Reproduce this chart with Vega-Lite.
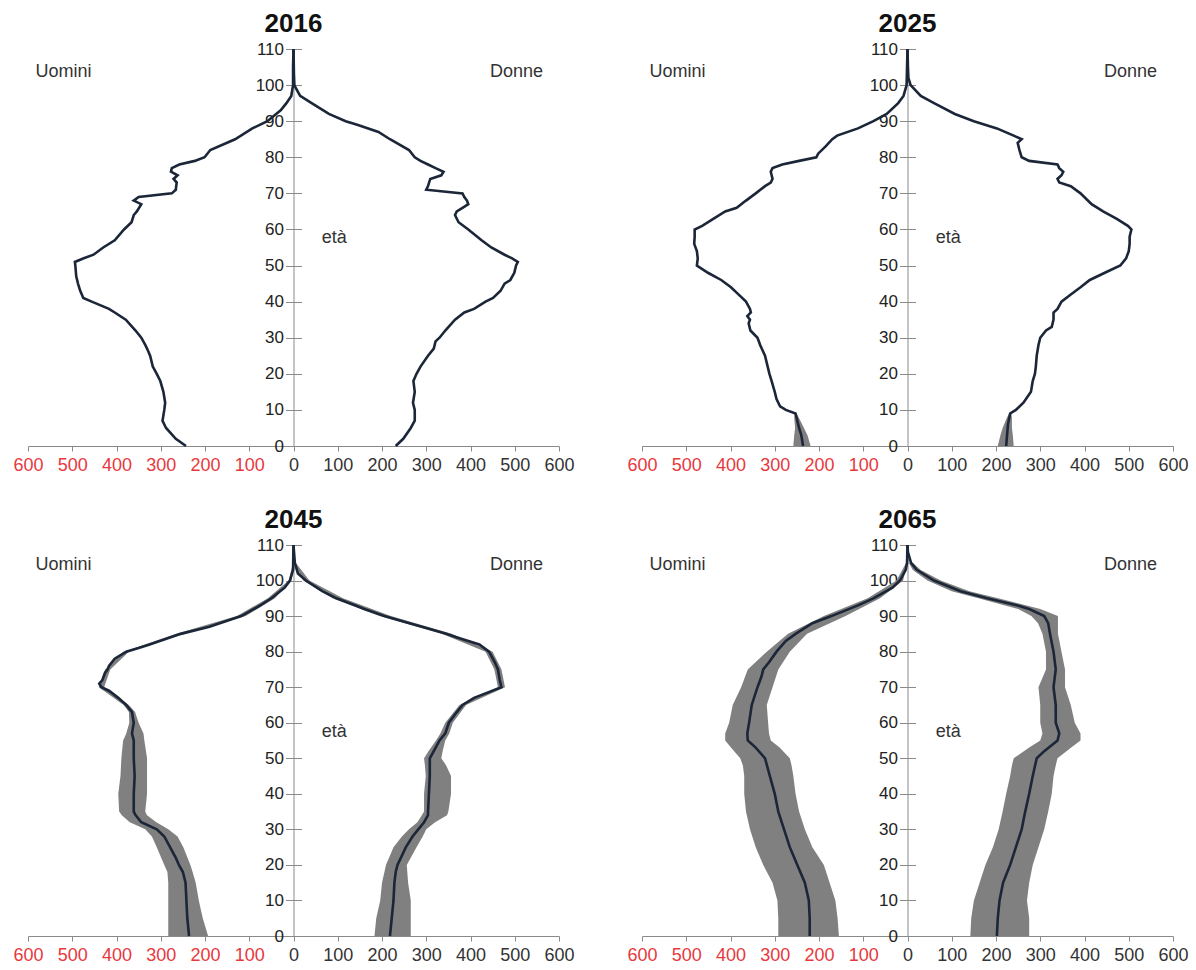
{
  "$schema": "https://vega.github.io/schema/vega-lite/v6.json",
  "padding": {"left": 12, "top": 11, "right": 5, "bottom": 5},
  "background": "white",
  "config": {
    "view": {"stroke": null},
    "font": "Liberation Sans",
    "title": {"fontSize": 26, "fontWeight": "bold", "color": "#111111", "offset": 3, "anchor": "middle"},
    "axis": {"domainColor": "#8a8a8a", "tickColor": "#8a8a8a", "grid": false, "labelFont": "Liberation Sans"}
  },
  "datasets": {
    "lines": [
      {"year":2016,"sex":"M","age":0,"pop":-243},{"year":2016,"sex":"M","age":2,"pop":-266},{"year":2016,"sex":"M","age":5,"pop":-288},{"year":2016,"sex":"M","age":7,"pop":-296},{"year":2016,"sex":"M","age":10,"pop":-292},{"year":2016,"sex":"M","age":12,"pop":-290},{"year":2016,"sex":"M","age":15,"pop":-294},{"year":2016,"sex":"M","age":18,"pop":-301},{"year":2016,"sex":"M","age":20,"pop":-309},{"year":2016,"sex":"M","age":22,"pop":-318},{"year":2016,"sex":"M","age":25,"pop":-324},{"year":2016,"sex":"M","age":27,"pop":-331},{"year":2016,"sex":"M","age":28,"pop":-335},{"year":2016,"sex":"M","age":30,"pop":-344},{"year":2016,"sex":"M","age":32,"pop":-357},{"year":2016,"sex":"M","age":35,"pop":-379},{"year":2016,"sex":"M","age":37,"pop":-404},{"year":2016,"sex":"M","age":38,"pop":-417},{"year":2016,"sex":"M","age":40,"pop":-456},{"year":2016,"sex":"M","age":41,"pop":-475},{"year":2016,"sex":"M","age":43,"pop":-482},{"year":2016,"sex":"M","age":45,"pop":-487},{"year":2016,"sex":"M","age":47,"pop":-491},{"year":2016,"sex":"M","age":50,"pop":-493},{"year":2016,"sex":"M","age":51,"pop":-494},{"year":2016,"sex":"M","age":52,"pop":-474},{"year":2016,"sex":"M","age":53,"pop":-452},{"year":2016,"sex":"M","age":55,"pop":-430},{"year":2016,"sex":"M","age":57,"pop":-404},{"year":2016,"sex":"M","age":60,"pop":-383},{"year":2016,"sex":"M","age":62,"pop":-366},{"year":2016,"sex":"M","age":64,"pop":-361},{"year":2016,"sex":"M","age":65,"pop":-354},{"year":2016,"sex":"M","age":67,"pop":-344},{"year":2016,"sex":"M","age":68,"pop":-361},{"year":2016,"sex":"M","age":69,"pop":-350},{"year":2016,"sex":"M","age":70,"pop":-275},{"year":2016,"sex":"M","age":71,"pop":-266},{"year":2016,"sex":"M","age":73,"pop":-264},{"year":2016,"sex":"M","age":74,"pop":-271},{"year":2016,"sex":"M","age":75,"pop":-262},{"year":2016,"sex":"M","age":76,"pop":-277},{"year":2016,"sex":"M","age":77,"pop":-275},{"year":2016,"sex":"M","age":78,"pop":-258},{"year":2016,"sex":"M","age":79,"pop":-223},{"year":2016,"sex":"M","age":80,"pop":-201},{"year":2016,"sex":"M","age":82,"pop":-188},{"year":2016,"sex":"M","age":85,"pop":-132},{"year":2016,"sex":"M","age":88,"pop":-93},{"year":2016,"sex":"M","age":90,"pop":-59},{"year":2016,"sex":"M","age":93,"pop":-29},{"year":2016,"sex":"M","age":95,"pop":-16},{"year":2016,"sex":"M","age":97,"pop":-5},{"year":2016,"sex":"M","age":100,"pop":-1},{"year":2016,"sex":"M","age":105,"pop":-1},{"year":2016,"sex":"M","age":110,"pop":0},
      {"year":2016,"sex":"F","age":0,"pop":231},{"year":2016,"sex":"F","age":2,"pop":248},{"year":2016,"sex":"F","age":5,"pop":265},{"year":2016,"sex":"F","age":7,"pop":274},{"year":2016,"sex":"F","age":10,"pop":274},{"year":2016,"sex":"F","age":12,"pop":270},{"year":2016,"sex":"F","age":15,"pop":274},{"year":2016,"sex":"F","age":18,"pop":271},{"year":2016,"sex":"F","age":20,"pop":278},{"year":2016,"sex":"F","age":22,"pop":287},{"year":2016,"sex":"F","age":25,"pop":304},{"year":2016,"sex":"F","age":27,"pop":317},{"year":2016,"sex":"F","age":29,"pop":321},{"year":2016,"sex":"F","age":30,"pop":330},{"year":2016,"sex":"F","age":32,"pop":343},{"year":2016,"sex":"F","age":35,"pop":365},{"year":2016,"sex":"F","age":37,"pop":386},{"year":2016,"sex":"F","age":38,"pop":408},{"year":2016,"sex":"F","age":40,"pop":434},{"year":2016,"sex":"F","age":41,"pop":451},{"year":2016,"sex":"F","age":43,"pop":468},{"year":2016,"sex":"F","age":45,"pop":477},{"year":2016,"sex":"F","age":46,"pop":490},{"year":2016,"sex":"F","age":48,"pop":499},{"year":2016,"sex":"F","age":50,"pop":503},{"year":2016,"sex":"F","age":51,"pop":507},{"year":2016,"sex":"F","age":52,"pop":494},{"year":2016,"sex":"F","age":53,"pop":477},{"year":2016,"sex":"F","age":55,"pop":447},{"year":2016,"sex":"F","age":57,"pop":425},{"year":2016,"sex":"F","age":60,"pop":395},{"year":2016,"sex":"F","age":62,"pop":373},{"year":2016,"sex":"F","age":64,"pop":365},{"year":2016,"sex":"F","age":65,"pop":369},{"year":2016,"sex":"F","age":66,"pop":382},{"year":2016,"sex":"F","age":67,"pop":395},{"year":2016,"sex":"F","age":68,"pop":392},{"year":2016,"sex":"F","age":69,"pop":386},{"year":2016,"sex":"F","age":70,"pop":382},{"year":2016,"sex":"F","age":71,"pop":300},{"year":2016,"sex":"F","age":72,"pop":304},{"year":2016,"sex":"F","age":74,"pop":309},{"year":2016,"sex":"F","age":75,"pop":334},{"year":2016,"sex":"F","age":76,"pop":339},{"year":2016,"sex":"F","age":77,"pop":321},{"year":2016,"sex":"F","age":78,"pop":304},{"year":2016,"sex":"F","age":79,"pop":287},{"year":2016,"sex":"F","age":80,"pop":274},{"year":2016,"sex":"F","age":82,"pop":261},{"year":2016,"sex":"F","age":85,"pop":218},{"year":2016,"sex":"F","age":87,"pop":192},{"year":2016,"sex":"F","age":89,"pop":144},{"year":2016,"sex":"F","age":90,"pop":118},{"year":2016,"sex":"F","age":92,"pop":80},{"year":2016,"sex":"F","age":95,"pop":41},{"year":2016,"sex":"F","age":97,"pop":15},{"year":2016,"sex":"F","age":99,"pop":6},{"year":2016,"sex":"F","age":100,"pop":2},{"year":2016,"sex":"F","age":103,"pop":1},{"year":2016,"sex":"F","age":110,"pop":0},
      {"year":2025,"sex":"M","age":0,"pop":-236},{"year":2025,"sex":"M","age":3,"pop":-240},{"year":2025,"sex":"M","age":5,"pop":-245},{"year":2025,"sex":"M","age":8,"pop":-251},{"year":2025,"sex":"M","age":9,"pop":-253},{"year":2025,"sex":"M","age":10,"pop":-275},{"year":2025,"sex":"M","age":11,"pop":-288},{"year":2025,"sex":"M","age":13,"pop":-296},{"year":2025,"sex":"M","age":15,"pop":-300},{"year":2025,"sex":"M","age":18,"pop":-307},{"year":2025,"sex":"M","age":20,"pop":-312},{"year":2025,"sex":"M","age":22,"pop":-316},{"year":2025,"sex":"M","age":25,"pop":-322},{"year":2025,"sex":"M","age":28,"pop":-333},{"year":2025,"sex":"M","age":30,"pop":-339},{"year":2025,"sex":"M","age":32,"pop":-355},{"year":2025,"sex":"M","age":34,"pop":-359},{"year":2025,"sex":"M","age":35,"pop":-356},{"year":2025,"sex":"M","age":36,"pop":-362},{"year":2025,"sex":"M","age":37,"pop":-354},{"year":2025,"sex":"M","age":38,"pop":-356},{"year":2025,"sex":"M","age":40,"pop":-365},{"year":2025,"sex":"M","age":42,"pop":-382},{"year":2025,"sex":"M","age":44,"pop":-399},{"year":2025,"sex":"M","age":46,"pop":-421},{"year":2025,"sex":"M","age":48,"pop":-451},{"year":2025,"sex":"M","age":50,"pop":-476},{"year":2025,"sex":"M","age":52,"pop":-474},{"year":2025,"sex":"M","age":54,"pop":-476},{"year":2025,"sex":"M","age":56,"pop":-482},{"year":2025,"sex":"M","age":58,"pop":-481},{"year":2025,"sex":"M","age":60,"pop":-481},{"year":2025,"sex":"M","age":61,"pop":-464},{"year":2025,"sex":"M","age":63,"pop":-438},{"year":2025,"sex":"M","age":65,"pop":-412},{"year":2025,"sex":"M","age":66,"pop":-386},{"year":2025,"sex":"M","age":68,"pop":-365},{"year":2025,"sex":"M","age":70,"pop":-343},{"year":2025,"sex":"M","age":72,"pop":-322},{"year":2025,"sex":"M","age":73,"pop":-309},{"year":2025,"sex":"M","age":74,"pop":-305},{"year":2025,"sex":"M","age":76,"pop":-309},{"year":2025,"sex":"M","age":77,"pop":-305},{"year":2025,"sex":"M","age":78,"pop":-283},{"year":2025,"sex":"M","age":79,"pop":-245},{"year":2025,"sex":"M","age":80,"pop":-206},{"year":2025,"sex":"M","age":81,"pop":-202},{"year":2025,"sex":"M","age":83,"pop":-185},{"year":2025,"sex":"M","age":85,"pop":-170},{"year":2025,"sex":"M","age":86,"pop":-159},{"year":2025,"sex":"M","age":88,"pop":-112},{"year":2025,"sex":"M","age":90,"pop":-77},{"year":2025,"sex":"M","age":92,"pop":-47},{"year":2025,"sex":"M","age":95,"pop":-21},{"year":2025,"sex":"M","age":97,"pop":-9},{"year":2025,"sex":"M","age":100,"pop":-2},{"year":2025,"sex":"M","age":105,"pop":-1},{"year":2025,"sex":"M","age":110,"pop":0},
      {"year":2025,"sex":"F","age":0,"pop":223},{"year":2025,"sex":"F","age":3,"pop":225},{"year":2025,"sex":"F","age":6,"pop":227},{"year":2025,"sex":"F","age":9,"pop":232},{"year":2025,"sex":"F","age":10,"pop":245},{"year":2025,"sex":"F","age":12,"pop":262},{"year":2025,"sex":"F","age":15,"pop":279},{"year":2025,"sex":"F","age":18,"pop":283},{"year":2025,"sex":"F","age":20,"pop":288},{"year":2025,"sex":"F","age":22,"pop":290},{"year":2025,"sex":"F","age":25,"pop":292},{"year":2025,"sex":"F","age":28,"pop":296},{"year":2025,"sex":"F","age":30,"pop":300},{"year":2025,"sex":"F","age":32,"pop":313},{"year":2025,"sex":"F","age":33,"pop":326},{"year":2025,"sex":"F","age":35,"pop":330},{"year":2025,"sex":"F","age":37,"pop":330},{"year":2025,"sex":"F","age":38,"pop":339},{"year":2025,"sex":"F","age":40,"pop":348},{"year":2025,"sex":"F","age":42,"pop":369},{"year":2025,"sex":"F","age":44,"pop":391},{"year":2025,"sex":"F","age":46,"pop":412},{"year":2025,"sex":"F","age":48,"pop":446},{"year":2025,"sex":"F","age":50,"pop":481},{"year":2025,"sex":"F","age":52,"pop":494},{"year":2025,"sex":"F","age":54,"pop":500},{"year":2025,"sex":"F","age":56,"pop":502},{"year":2025,"sex":"F","age":58,"pop":502},{"year":2025,"sex":"F","age":60,"pop":506},{"year":2025,"sex":"F","age":61,"pop":498},{"year":2025,"sex":"F","age":63,"pop":472},{"year":2025,"sex":"F","age":65,"pop":442},{"year":2025,"sex":"F","age":67,"pop":416},{"year":2025,"sex":"F","age":70,"pop":391},{"year":2025,"sex":"F","age":72,"pop":369},{"year":2025,"sex":"F","age":73,"pop":343},{"year":2025,"sex":"F","age":74,"pop":339},{"year":2025,"sex":"F","age":75,"pop":348},{"year":2025,"sex":"F","age":76,"pop":352},{"year":2025,"sex":"F","age":77,"pop":343},{"year":2025,"sex":"F","age":78,"pop":339},{"year":2025,"sex":"F","age":79,"pop":275},{"year":2025,"sex":"F","age":80,"pop":258},{"year":2025,"sex":"F","age":82,"pop":253},{"year":2025,"sex":"F","age":84,"pop":249},{"year":2025,"sex":"F","age":85,"pop":258},{"year":2025,"sex":"F","age":86,"pop":240},{"year":2025,"sex":"F","age":88,"pop":202},{"year":2025,"sex":"F","age":90,"pop":150},{"year":2025,"sex":"F","age":92,"pop":107},{"year":2025,"sex":"F","age":95,"pop":60},{"year":2025,"sex":"F","age":97,"pop":30},{"year":2025,"sex":"F","age":100,"pop":7},{"year":2025,"sex":"F","age":102,"pop":2},{"year":2025,"sex":"F","age":105,"pop":1},{"year":2025,"sex":"F","age":110,"pop":0},
      {"year":2045,"sex":"M","age":0,"pop":-236},{"year":2045,"sex":"M","age":5,"pop":-240},{"year":2045,"sex":"M","age":10,"pop":-242},{"year":2045,"sex":"M","age":15,"pop":-244},{"year":2045,"sex":"M","age":18,"pop":-250},{"year":2045,"sex":"M","age":20,"pop":-259},{"year":2045,"sex":"M","age":22,"pop":-266},{"year":2045,"sex":"M","age":25,"pop":-279},{"year":2045,"sex":"M","age":28,"pop":-292},{"year":2045,"sex":"M","age":30,"pop":-309},{"year":2045,"sex":"M","age":32,"pop":-344},{"year":2045,"sex":"M","age":34,"pop":-357},{"year":2045,"sex":"M","age":35,"pop":-361},{"year":2045,"sex":"M","age":40,"pop":-361},{"year":2045,"sex":"M","age":45,"pop":-359},{"year":2045,"sex":"M","age":50,"pop":-361},{"year":2045,"sex":"M","age":55,"pop":-361},{"year":2045,"sex":"M","age":57,"pop":-365},{"year":2045,"sex":"M","age":60,"pop":-361},{"year":2045,"sex":"M","age":63,"pop":-365},{"year":2045,"sex":"M","age":65,"pop":-378},{"year":2045,"sex":"M","age":67,"pop":-396},{"year":2045,"sex":"M","age":69,"pop":-417},{"year":2045,"sex":"M","age":70,"pop":-434},{"year":2045,"sex":"M","age":71,"pop":-439},{"year":2045,"sex":"M","age":72,"pop":-432},{"year":2045,"sex":"M","age":74,"pop":-426},{"year":2045,"sex":"M","age":75,"pop":-420},{"year":2045,"sex":"M","age":76,"pop":-417},{"year":2045,"sex":"M","age":78,"pop":-404},{"year":2045,"sex":"M","age":80,"pop":-378},{"year":2045,"sex":"M","age":81,"pop":-350},{"year":2045,"sex":"M","age":82,"pop":-325},{"year":2045,"sex":"M","age":85,"pop":-255},{"year":2045,"sex":"M","age":87,"pop":-190},{"year":2045,"sex":"M","age":90,"pop":-118},{"year":2045,"sex":"M","age":93,"pop":-75},{"year":2045,"sex":"M","age":95,"pop":-50},{"year":2045,"sex":"M","age":98,"pop":-20},{"year":2045,"sex":"M","age":100,"pop":-8},{"year":2045,"sex":"M","age":103,"pop":-1},{"year":2045,"sex":"M","age":110,"pop":0},
      {"year":2045,"sex":"F","age":0,"pop":218},{"year":2045,"sex":"F","age":5,"pop":222},{"year":2045,"sex":"F","age":10,"pop":226},{"year":2045,"sex":"F","age":15,"pop":228},{"year":2045,"sex":"F","age":18,"pop":231},{"year":2045,"sex":"F","age":20,"pop":235},{"year":2045,"sex":"F","age":25,"pop":254},{"year":2045,"sex":"F","age":28,"pop":269},{"year":2045,"sex":"F","age":30,"pop":282},{"year":2045,"sex":"F","age":32,"pop":295},{"year":2045,"sex":"F","age":34,"pop":304},{"year":2045,"sex":"F","age":35,"pop":304},{"year":2045,"sex":"F","age":40,"pop":306},{"year":2045,"sex":"F","age":45,"pop":308},{"year":2045,"sex":"F","age":50,"pop":308},{"year":2045,"sex":"F","age":52,"pop":317},{"year":2045,"sex":"F","age":55,"pop":330},{"year":2045,"sex":"F","age":57,"pop":343},{"year":2045,"sex":"F","age":60,"pop":351},{"year":2045,"sex":"F","age":63,"pop":369},{"year":2045,"sex":"F","age":65,"pop":382},{"year":2045,"sex":"F","age":67,"pop":408},{"year":2045,"sex":"F","age":70,"pop":470},{"year":2045,"sex":"F","age":72,"pop":466},{"year":2045,"sex":"F","age":75,"pop":462},{"year":2045,"sex":"F","age":77,"pop":455},{"year":2045,"sex":"F","age":80,"pop":442},{"year":2045,"sex":"F","age":82,"pop":420},{"year":2045,"sex":"F","age":84,"pop":370},{"year":2045,"sex":"F","age":85,"pop":345},{"year":2045,"sex":"F","age":87,"pop":290},{"year":2045,"sex":"F","age":88,"pop":262},{"year":2045,"sex":"F","age":90,"pop":205},{"year":2045,"sex":"F","age":92,"pop":160},{"year":2045,"sex":"F","age":93,"pop":140},{"year":2045,"sex":"F","age":95,"pop":97},{"year":2045,"sex":"F","age":97,"pop":65},{"year":2045,"sex":"F","age":100,"pop":28},{"year":2045,"sex":"F","age":102,"pop":10},{"year":2045,"sex":"F","age":105,"pop":3},{"year":2045,"sex":"F","age":110,"pop":0},
      {"year":2065,"sex":"M","age":0,"pop":-221},{"year":2065,"sex":"M","age":5,"pop":-221},{"year":2065,"sex":"M","age":10,"pop":-223},{"year":2065,"sex":"M","age":15,"pop":-232},{"year":2065,"sex":"M","age":20,"pop":-249},{"year":2065,"sex":"M","age":25,"pop":-266},{"year":2065,"sex":"M","age":30,"pop":-279},{"year":2065,"sex":"M","age":35,"pop":-292},{"year":2065,"sex":"M","age":40,"pop":-300},{"year":2065,"sex":"M","age":45,"pop":-311},{"year":2065,"sex":"M","age":50,"pop":-322},{"year":2065,"sex":"M","age":53,"pop":-343},{"year":2065,"sex":"M","age":55,"pop":-361},{"year":2065,"sex":"M","age":57,"pop":-362},{"year":2065,"sex":"M","age":60,"pop":-358},{"year":2065,"sex":"M","age":65,"pop":-352},{"year":2065,"sex":"M","age":70,"pop":-339},{"year":2065,"sex":"M","age":73,"pop":-330},{"year":2065,"sex":"M","age":75,"pop":-326},{"year":2065,"sex":"M","age":77,"pop":-313},{"year":2065,"sex":"M","age":80,"pop":-296},{"year":2065,"sex":"M","age":83,"pop":-275},{"year":2065,"sex":"M","age":85,"pop":-253},{"year":2065,"sex":"M","age":88,"pop":-215},{"year":2065,"sex":"M","age":90,"pop":-172},{"year":2065,"sex":"M","age":93,"pop":-112},{"year":2065,"sex":"M","age":95,"pop":-77},{"year":2065,"sex":"M","age":98,"pop":-34},{"year":2065,"sex":"M","age":100,"pop":-17},{"year":2065,"sex":"M","age":103,"pop":-4},{"year":2065,"sex":"M","age":105,"pop":-1},{"year":2065,"sex":"M","age":110,"pop":0},
      {"year":2065,"sex":"F","age":0,"pop":202},{"year":2065,"sex":"F","age":5,"pop":204},{"year":2065,"sex":"F","age":10,"pop":208},{"year":2065,"sex":"F","age":15,"pop":216},{"year":2065,"sex":"F","age":20,"pop":232},{"year":2065,"sex":"F","age":25,"pop":245},{"year":2065,"sex":"F","age":30,"pop":258},{"year":2065,"sex":"F","age":35,"pop":266},{"year":2065,"sex":"F","age":40,"pop":275},{"year":2065,"sex":"F","age":45,"pop":283},{"year":2065,"sex":"F","age":50,"pop":292},{"year":2065,"sex":"F","age":52,"pop":309},{"year":2065,"sex":"F","age":55,"pop":339},{"year":2065,"sex":"F","age":57,"pop":343},{"year":2065,"sex":"F","age":60,"pop":335},{"year":2065,"sex":"F","age":65,"pop":335},{"year":2065,"sex":"F","age":70,"pop":330},{"year":2065,"sex":"F","age":75,"pop":335},{"year":2065,"sex":"F","age":80,"pop":330},{"year":2065,"sex":"F","age":85,"pop":322},{"year":2065,"sex":"F","age":88,"pop":318},{"year":2065,"sex":"F","age":90,"pop":309},{"year":2065,"sex":"F","age":92,"pop":275},{"year":2065,"sex":"F","age":93,"pop":249},{"year":2065,"sex":"F","age":95,"pop":180},{"year":2065,"sex":"F","age":97,"pop":120},{"year":2065,"sex":"F","age":100,"pop":60},{"year":2065,"sex":"F","age":103,"pop":21},{"year":2065,"sex":"F","age":105,"pop":8},{"year":2065,"sex":"F","age":108,"pop":1},{"year":2065,"sex":"F","age":110,"pop":0}
    ],
    "bands": [
      {"year":2025,"sex":"M","age":0,"lo":-258,"hi":-219},{"year":2025,"sex":"M","age":3,"lo":-256,"hi":-226},{"year":2025,"sex":"M","age":5,"lo":-254,"hi":-234},{"year":2025,"sex":"M","age":8,"lo":-256,"hi":-246},{"year":2025,"sex":"M","age":9,"lo":-255,"hi":-251},{"year":2025,"sex":"M","age":10,"lo":-276,"hi":-274},
      {"year":2025,"sex":"F","age":0,"lo":204,"hi":240},{"year":2025,"sex":"F","age":3,"lo":210,"hi":238},{"year":2025,"sex":"F","age":5,"lo":215,"hi":236},{"year":2025,"sex":"F","age":8,"lo":225,"hi":236},{"year":2025,"sex":"F","age":9,"lo":230,"hi":234},{"year":2025,"sex":"F","age":10,"lo":244,"hi":246},
      {"year":2045,"sex":"M","age":0,"lo":-283,"hi":-193},{"year":2045,"sex":"M","age":5,"lo":-283,"hi":-205},{"year":2045,"sex":"M","age":10,"lo":-283,"hi":-214},{"year":2045,"sex":"M","age":15,"lo":-283,"hi":-221},{"year":2045,"sex":"M","age":18,"lo":-285,"hi":-228},{"year":2045,"sex":"M","age":20,"lo":-292,"hi":-233},{"year":2045,"sex":"M","age":25,"lo":-309,"hi":-249},{"year":2045,"sex":"M","age":28,"lo":-320,"hi":-262},{"year":2045,"sex":"M","age":30,"lo":-335,"hi":-283},{"year":2045,"sex":"M","age":32,"lo":-370,"hi":-310},{"year":2045,"sex":"M","age":34,"lo":-388,"hi":-331},{"year":2045,"sex":"M","age":35,"lo":-394,"hi":-335},{"year":2045,"sex":"M","age":40,"lo":-396,"hi":-331},{"year":2045,"sex":"M","age":45,"lo":-391,"hi":-331},{"year":2045,"sex":"M","age":50,"lo":-389,"hi":-331},{"year":2045,"sex":"M","age":55,"lo":-385,"hi":-337},{"year":2045,"sex":"M","age":57,"lo":-378,"hi":-339},{"year":2045,"sex":"M","age":60,"lo":-371,"hi":-350},{"year":2045,"sex":"M","age":63,"lo":-372,"hi":-358},{"year":2045,"sex":"M","age":65,"lo":-384,"hi":-372},{"year":2045,"sex":"M","age":70,"lo":-440,"hi":-428},{"year":2045,"sex":"M","age":75,"lo":-426,"hi":-414},{"year":2045,"sex":"M","age":80,"lo":-384,"hi":-372},{"year":2045,"sex":"M","age":85,"lo":-265,"hi":-245},{"year":2045,"sex":"M","age":90,"lo":-128,"hi":-108},{"year":2045,"sex":"M","age":95,"lo":-58,"hi":-42},{"year":2045,"sex":"M","age":100,"lo":-11,"hi":-5},{"year":2045,"sex":"M","age":105,"lo":-1,"hi":0},
      {"year":2045,"sex":"F","age":0,"lo":183,"hi":265},{"year":2045,"sex":"F","age":5,"lo":187,"hi":265},{"year":2045,"sex":"F","age":10,"lo":196,"hi":265},{"year":2045,"sex":"F","age":15,"lo":200,"hi":259},{"year":2045,"sex":"F","age":20,"lo":209,"hi":256},{"year":2045,"sex":"F","age":25,"lo":226,"hi":278},{"year":2045,"sex":"F","age":28,"lo":245,"hi":292},{"year":2045,"sex":"F","age":30,"lo":261,"hi":300},{"year":2045,"sex":"F","age":32,"lo":280,"hi":320},{"year":2045,"sex":"F","age":34,"lo":290,"hi":347},{"year":2045,"sex":"F","age":35,"lo":295,"hi":350},{"year":2045,"sex":"F","age":40,"lo":295,"hi":356},{"year":2045,"sex":"F","age":45,"lo":299,"hi":356},{"year":2045,"sex":"F","age":48,"lo":297,"hi":345},{"year":2045,"sex":"F","age":50,"lo":295,"hi":334},{"year":2045,"sex":"F","age":52,"lo":305,"hi":337},{"year":2045,"sex":"F","age":55,"lo":322,"hi":343},{"year":2045,"sex":"F","age":57,"lo":332,"hi":352},{"year":2045,"sex":"F","age":60,"lo":343,"hi":360},{"year":2045,"sex":"F","age":65,"lo":375,"hi":390},{"year":2045,"sex":"F","age":70,"lo":462,"hi":478},{"year":2045,"sex":"F","age":75,"lo":454,"hi":470},{"year":2045,"sex":"F","age":80,"lo":434,"hi":450},{"year":2045,"sex":"F","age":85,"lo":335,"hi":357},{"year":2045,"sex":"F","age":90,"lo":195,"hi":220},{"year":2045,"sex":"F","age":95,"lo":88,"hi":112},{"year":2045,"sex":"F","age":100,"lo":22,"hi":36},{"year":2045,"sex":"F","age":105,"lo":1,"hi":5},
      {"year":2065,"sex":"M","age":0,"lo":-292,"hi":-155},{"year":2065,"sex":"M","age":5,"lo":-292,"hi":-158},{"year":2065,"sex":"M","age":10,"lo":-294,"hi":-163},{"year":2065,"sex":"M","age":15,"lo":-305,"hi":-176},{"year":2065,"sex":"M","age":20,"lo":-326,"hi":-189},{"year":2065,"sex":"M","age":25,"lo":-343,"hi":-215},{"year":2065,"sex":"M","age":30,"lo":-356,"hi":-232},{"year":2065,"sex":"M","age":35,"lo":-365,"hi":-245},{"year":2065,"sex":"M","age":40,"lo":-369,"hi":-253},{"year":2065,"sex":"M","age":45,"lo":-369,"hi":-258},{"year":2065,"sex":"M","age":48,"lo":-372,"hi":-262},{"year":2065,"sex":"M","age":50,"lo":-378,"hi":-266},{"year":2065,"sex":"M","age":53,"lo":-399,"hi":-289},{"year":2065,"sex":"M","age":55,"lo":-412,"hi":-309},{"year":2065,"sex":"M","age":57,"lo":-412,"hi":-313},{"year":2065,"sex":"M","age":60,"lo":-403,"hi":-315},{"year":2065,"sex":"M","age":65,"lo":-395,"hi":-318},{"year":2065,"sex":"M","age":70,"lo":-376,"hi":-305},{"year":2065,"sex":"M","age":75,"lo":-361,"hi":-292},{"year":2065,"sex":"M","age":80,"lo":-318,"hi":-266},{"year":2065,"sex":"M","age":85,"lo":-270,"hi":-227},{"year":2065,"sex":"M","age":90,"lo":-189,"hi":-140},{"year":2065,"sex":"M","age":95,"lo":-90,"hi":-62},{"year":2065,"sex":"M","age":100,"lo":-25,"hi":-10},{"year":2065,"sex":"M","age":105,"lo":-3,"hi":0},
      {"year":2065,"sex":"F","age":0,"lo":142,"hi":275},{"year":2065,"sex":"F","age":5,"lo":144,"hi":275},{"year":2065,"sex":"F","age":10,"lo":150,"hi":270},{"year":2065,"sex":"F","age":15,"lo":163,"hi":275},{"year":2065,"sex":"F","age":20,"lo":176,"hi":283},{"year":2065,"sex":"F","age":25,"lo":193,"hi":296},{"year":2065,"sex":"F","age":30,"lo":206,"hi":309},{"year":2065,"sex":"F","age":35,"lo":215,"hi":318},{"year":2065,"sex":"F","age":40,"lo":223,"hi":326},{"year":2065,"sex":"F","age":45,"lo":232,"hi":330},{"year":2065,"sex":"F","age":48,"lo":236,"hi":335},{"year":2065,"sex":"F","age":50,"lo":240,"hi":339},{"year":2065,"sex":"F","age":53,"lo":275,"hi":370},{"year":2065,"sex":"F","age":55,"lo":300,"hi":391},{"year":2065,"sex":"F","age":57,"lo":305,"hi":391},{"year":2065,"sex":"F","age":60,"lo":300,"hi":378},{"year":2065,"sex":"F","age":65,"lo":300,"hi":369},{"year":2065,"sex":"F","age":70,"lo":296,"hi":356},{"year":2065,"sex":"F","age":75,"lo":313,"hi":356},{"year":2065,"sex":"F","age":80,"lo":313,"hi":348},{"year":2065,"sex":"F","age":85,"lo":305,"hi":340},{"year":2065,"sex":"F","age":88,"lo":295,"hi":340},{"year":2065,"sex":"F","age":90,"lo":280,"hi":340},{"year":2065,"sex":"F","age":92,"lo":250,"hi":300},{"year":2065,"sex":"F","age":95,"lo":160,"hi":205},{"year":2065,"sex":"F","age":97,"lo":100,"hi":140},{"year":2065,"sex":"F","age":100,"lo":45,"hi":75},{"year":2065,"sex":"F","age":103,"lo":12,"hi":30},{"year":2065,"sex":"F","age":105,"lo":3,"hi":12}
    ],
    "lblM": [{"label": "Uomini"}],
    "lblF": [{"label": "Donne"}],
    "lblA": [{"label": "età"}]
  },
  "columns": 2,
  "spacing": {"row": 99, "column": 83},
  "bounds": "flush",
  "concat": [
    {
      "title": {"text": "2016"},
      "width": 531, "height": 397,
      "resolve": {"axis": {"y": "independent"}},
      "layer": [
        {"data": {"name": "bands"}, "transform": [{"filter": "datum.year == 2016"}],
         "mark": {"type": "area", "orient": "horizontal", "color": "#808080", "opacity": 1},
         "encoding": {
           "y": {"field": "age", "type": "quantitative", "title": null, "scale": {"domain": [0, 110], "nice": false},
                 "axis": {"orient": "left", "offset": -265.5, "values": [0,10,20,30,40,50,60,70,80,90,100,110], "tickSize": 8, "labelFontSize": 17, "labelColor": "#222222", "labelPadding": 2, "labelOverlap": false}},
           "x": {"field": "lo", "type": "quantitative", "title": null, "scale": {"domain": [-600, 600], "nice": false},
                 "axis": {"orient": "bottom", "values": [-600,-500,-400,-300,-200,-100,0,100,200,300,400,500,600], "labelExpr": "abs(datum.value)", "labelColor": {"expr": "datum.value < 0 ? '#e8383d' : '#333333'"}, "labelFontSize": 18, "tickSize": 5, "labelPadding": 5, "labelOverlap": false, "labelBound": false, "labelFlush": false}},
           "x2": {"field": "hi"},
           "detail": {"field": "sex"}
         }},
        {"data": {"name": "lines"}, "transform": [{"filter": "datum.year == 2016"}],
         "mark": {"type": "line", "color": "#1b2638", "strokeWidth": 2.6},
         "encoding": {
           "y": {"field": "age", "type": "quantitative", "title": null,
                 "axis": {"orient": "right", "offset": -265.5, "values": [0,10,20,30,40,50,60,70,80,90,100,110], "tickSize": 8, "labels": false, "domain": false}},
           "x": {"field": "pop", "type": "quantitative", "title": null},
           "detail": {"field": "sex"},
           "order": {"field": "age"}
         }},
        {"data": {"name": "lblM"}, "mark": {"type": "text", "fontSize": 18, "color": "#333333"},
         "encoding": {"text": {"field": "label"}, "x": {"datum": -520, "type": "quantitative", "title": null}, "y": {"datum": 103.6, "type": "quantitative", "axis": null}}},
        {"data": {"name": "lblF"}, "mark": {"type": "text", "fontSize": 18, "color": "#333333"},
         "encoding": {"text": {"field": "label"}, "x": {"datum": 504, "type": "quantitative", "title": null}, "y": {"datum": 103.6, "type": "quantitative", "axis": null}}},
        {"data": {"name": "lblA"}, "mark": {"type": "text", "fontSize": 18, "color": "#333333"},
         "encoding": {"text": {"field": "label"}, "x": {"datum": 92, "type": "quantitative", "title": null}, "y": {"datum": 57.6, "type": "quantitative", "axis": null}}}
      ]
    },
    {
      "title": {"text": "2025"},
      "width": 531, "height": 397,
      "resolve": {"axis": {"y": "independent"}},
      "layer": [
        {"data": {"name": "bands"}, "transform": [{"filter": "datum.year == 2025"}],
         "mark": {"type": "area", "orient": "horizontal", "color": "#808080", "opacity": 1},
         "encoding": {
           "y": {"field": "age", "type": "quantitative", "title": null, "scale": {"domain": [0, 110], "nice": false},
                 "axis": {"orient": "left", "offset": -265.5, "values": [0,10,20,30,40,50,60,70,80,90,100,110], "tickSize": 8, "labelFontSize": 17, "labelColor": "#222222", "labelPadding": 2, "labelOverlap": false}},
           "x": {"field": "lo", "type": "quantitative", "title": null, "scale": {"domain": [-600, 600], "nice": false},
                 "axis": {"orient": "bottom", "values": [-600,-500,-400,-300,-200,-100,0,100,200,300,400,500,600], "labelExpr": "abs(datum.value)", "labelColor": {"expr": "datum.value < 0 ? '#e8383d' : '#333333'"}, "labelFontSize": 18, "tickSize": 5, "labelPadding": 5, "labelOverlap": false, "labelBound": false, "labelFlush": false}},
           "x2": {"field": "hi"},
           "detail": {"field": "sex"}
         }},
        {"data": {"name": "lines"}, "transform": [{"filter": "datum.year == 2025"}],
         "mark": {"type": "line", "color": "#1b2638", "strokeWidth": 2.6},
         "encoding": {
           "y": {"field": "age", "type": "quantitative", "title": null,
                 "axis": {"orient": "right", "offset": -265.5, "values": [0,10,20,30,40,50,60,70,80,90,100,110], "tickSize": 8, "labels": false, "domain": false}},
           "x": {"field": "pop", "type": "quantitative", "title": null},
           "detail": {"field": "sex"},
           "order": {"field": "age"}
         }},
        {"data": {"name": "lblM"}, "mark": {"type": "text", "fontSize": 18, "color": "#333333"},
         "encoding": {"text": {"field": "label"}, "x": {"datum": -520, "type": "quantitative", "title": null}, "y": {"datum": 103.6, "type": "quantitative", "axis": null}}},
        {"data": {"name": "lblF"}, "mark": {"type": "text", "fontSize": 18, "color": "#333333"},
         "encoding": {"text": {"field": "label"}, "x": {"datum": 504, "type": "quantitative", "title": null}, "y": {"datum": 103.6, "type": "quantitative", "axis": null}}},
        {"data": {"name": "lblA"}, "mark": {"type": "text", "fontSize": 18, "color": "#333333"},
         "encoding": {"text": {"field": "label"}, "x": {"datum": 92, "type": "quantitative", "title": null}, "y": {"datum": 57.6, "type": "quantitative", "axis": null}}}
      ]
    },
    {
      "title": {"text": "2045"},
      "width": 531, "height": 391,
      "resolve": {"axis": {"y": "independent"}},
      "layer": [
        {"data": {"name": "bands"}, "transform": [{"filter": "datum.year == 2045"}],
         "mark": {"type": "area", "orient": "horizontal", "color": "#808080", "opacity": 1},
         "encoding": {
           "y": {"field": "age", "type": "quantitative", "title": null, "scale": {"domain": [0, 110], "nice": false},
                 "axis": {"orient": "left", "offset": -265.5, "values": [0,10,20,30,40,50,60,70,80,90,100,110], "tickSize": 8, "labelFontSize": 17, "labelColor": "#222222", "labelPadding": 2, "labelOverlap": false}},
           "x": {"field": "lo", "type": "quantitative", "title": null, "scale": {"domain": [-600, 600], "nice": false},
                 "axis": {"orient": "bottom", "values": [-600,-500,-400,-300,-200,-100,0,100,200,300,400,500,600], "labelExpr": "abs(datum.value)", "labelColor": {"expr": "datum.value < 0 ? '#e8383d' : '#333333'"}, "labelFontSize": 18, "tickSize": 5, "labelPadding": 5, "labelOverlap": false, "labelBound": false, "labelFlush": false}},
           "x2": {"field": "hi"},
           "detail": {"field": "sex"}
         }},
        {"data": {"name": "lines"}, "transform": [{"filter": "datum.year == 2045"}],
         "mark": {"type": "line", "color": "#1b2638", "strokeWidth": 2.6},
         "encoding": {
           "y": {"field": "age", "type": "quantitative", "title": null,
                 "axis": {"orient": "right", "offset": -265.5, "values": [0,10,20,30,40,50,60,70,80,90,100,110], "tickSize": 8, "labels": false, "domain": false}},
           "x": {"field": "pop", "type": "quantitative", "title": null},
           "detail": {"field": "sex"},
           "order": {"field": "age"}
         }},
        {"data": {"name": "lblM"}, "mark": {"type": "text", "fontSize": 18, "color": "#333333"},
         "encoding": {"text": {"field": "label"}, "x": {"datum": -520, "type": "quantitative", "title": null}, "y": {"datum": 104.3, "type": "quantitative", "axis": null}}},
        {"data": {"name": "lblF"}, "mark": {"type": "text", "fontSize": 18, "color": "#333333"},
         "encoding": {"text": {"field": "label"}, "x": {"datum": 504, "type": "quantitative", "title": null}, "y": {"datum": 104.3, "type": "quantitative", "axis": null}}},
        {"data": {"name": "lblA"}, "mark": {"type": "text", "fontSize": 18, "color": "#333333"},
         "encoding": {"text": {"field": "label"}, "x": {"datum": 92, "type": "quantitative", "title": null}, "y": {"datum": 57.3, "type": "quantitative", "axis": null}}}
      ]
    },
    {
      "title": {"text": "2065"},
      "width": 531, "height": 391,
      "resolve": {"axis": {"y": "independent"}},
      "layer": [
        {"data": {"name": "bands"}, "transform": [{"filter": "datum.year == 2065"}],
         "mark": {"type": "area", "orient": "horizontal", "color": "#808080", "opacity": 1},
         "encoding": {
           "y": {"field": "age", "type": "quantitative", "title": null, "scale": {"domain": [0, 110], "nice": false},
                 "axis": {"orient": "left", "offset": -265.5, "values": [0,10,20,30,40,50,60,70,80,90,100,110], "tickSize": 8, "labelFontSize": 17, "labelColor": "#222222", "labelPadding": 2, "labelOverlap": false}},
           "x": {"field": "lo", "type": "quantitative", "title": null, "scale": {"domain": [-600, 600], "nice": false},
                 "axis": {"orient": "bottom", "values": [-600,-500,-400,-300,-200,-100,0,100,200,300,400,500,600], "labelExpr": "abs(datum.value)", "labelColor": {"expr": "datum.value < 0 ? '#e8383d' : '#333333'"}, "labelFontSize": 18, "tickSize": 5, "labelPadding": 5, "labelOverlap": false, "labelBound": false, "labelFlush": false}},
           "x2": {"field": "hi"},
           "detail": {"field": "sex"}
         }},
        {"data": {"name": "lines"}, "transform": [{"filter": "datum.year == 2065"}],
         "mark": {"type": "line", "color": "#1b2638", "strokeWidth": 2.6},
         "encoding": {
           "y": {"field": "age", "type": "quantitative", "title": null,
                 "axis": {"orient": "right", "offset": -265.5, "values": [0,10,20,30,40,50,60,70,80,90,100,110], "tickSize": 8, "labels": false, "domain": false}},
           "x": {"field": "pop", "type": "quantitative", "title": null},
           "detail": {"field": "sex"},
           "order": {"field": "age"}
         }},
        {"data": {"name": "lblM"}, "mark": {"type": "text", "fontSize": 18, "color": "#333333"},
         "encoding": {"text": {"field": "label"}, "x": {"datum": -520, "type": "quantitative", "title": null}, "y": {"datum": 104.3, "type": "quantitative", "axis": null}}},
        {"data": {"name": "lblF"}, "mark": {"type": "text", "fontSize": 18, "color": "#333333"},
         "encoding": {"text": {"field": "label"}, "x": {"datum": 504, "type": "quantitative", "title": null}, "y": {"datum": 104.3, "type": "quantitative", "axis": null}}},
        {"data": {"name": "lblA"}, "mark": {"type": "text", "fontSize": 18, "color": "#333333"},
         "encoding": {"text": {"field": "label"}, "x": {"datum": 92, "type": "quantitative", "title": null}, "y": {"datum": 57.3, "type": "quantitative", "axis": null}}}
      ]
    }
  ]
}
